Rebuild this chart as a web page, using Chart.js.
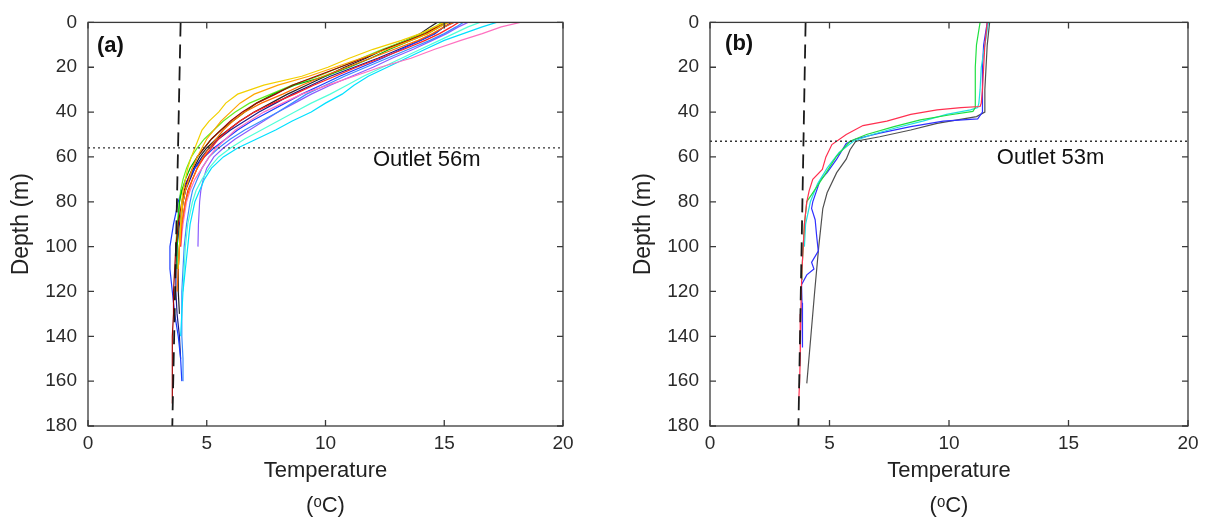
<!DOCTYPE html>
<html>
<head>
<meta charset="utf-8">
<script src="https://cdn.jsdelivr.net/npm/chart.js@4"></script>
<style>
  body { margin: 0; background: #fff; }
  canvas { position: absolute; top: 0; }
</style>
</head>
<body>
<canvas id="chartA" width="600" height="523" style="left:0"></canvas>
<canvas id="chartB" width="606" height="523" style="left:600px"></canvas>
<script>
// ---- data ----
const xTicks = [0, 5, 10, 15, 20];
const yTicks = [0, 20, 40, 60, 80, 100, 120, 140, 160, 180];

// panel (a): depths shared by all profiles, each profile stops where it ends
const depthA = [0, 2, 5, 8, 12, 16, 20, 24, 28, 32, 36, 40, 44, 48, 52, 56, 60, 65, 70, 75, 80, 90, 100, 110, 120, 130, 140, 150, 160, 170];
const yellowA = [15.0, 14.6, 14.0, 13.2, 12.0, 11.0, 10.1, 9.0, 7.4, 6.3, 5.8, 5.5, 5.1, 4.8, 4.65, 4.5, 4.35, 4.2, 4.1, 4.0, 3.95, 3.9, 3.85];
const orangeA = [15.2, 14.8, 14.3, 13.6, 12.6, 11.5, 10.4, 9.3, 8.0, 7.0, 6.4, 6.0, 5.6, 5.3, 5.0, 4.8, 4.6, 4.4, 4.25, 4.1, 4.0, 3.9, 3.85, 3.8];
const orangeRedA = [15.4, 15.0, 14.5, 13.9, 12.9, 11.9, 10.9, 9.9, 9.0, 8.2, 7.3, 6.6, 6.1, 5.7, 5.4, 5.1, 4.85, 4.6, 4.4, 4.25, 4.1, 3.95, 3.85, 3.8, 3.75];
const redA = [15.6, 15.3, 14.8, 14.2, 13.3, 12.3, 11.3, 10.4, 9.5, 8.7, 7.8, 7.0, 6.4, 5.9, 5.5, 5.2, 4.9, 4.6, 4.4, 4.2, 4.1, 3.95, 3.9];
const darkRedA = [15.0, 14.7, 14.2, 13.5, 12.5, 11.6, 10.6, 9.6, 8.6, 7.9, 7.1, 6.5, 6.0, 5.6, 5.2, 4.9, 4.6, 4.4, 4.2, 4.05, 3.95, 3.8, 3.7, 3.65, 3.6, 3.6, 3.55, 3.55, 3.55, 3.55];
const pinkA = [18.2, 17.4, 16.6, 15.7, 14.6, 13.6, 12.3, 11.2, 10.1, 9.0, 8.2, 7.4, 6.8, 6.2, 5.8, 5.4, 5.1, 4.8, 4.5, 4.3, 4.15, 4.0, 3.9];
const greenA = [15.1, 14.8, 14.3, 13.6, 12.7, 11.9, 11.0, 10.0, 8.7, 7.8, 7.1, 6.6, 6.1, 5.6, 5.2, 4.9, 4.6, 4.3, 4.1, 3.95, 3.85, 3.8, 3.75, 3.75];
const limeA = [14.9, 14.6, 14.1, 13.4, 12.4, 11.5, 10.6, 9.7, 8.6, 7.7, 6.8, 6.2, 5.7, 5.3, 4.9, 4.6, 4.35, 4.15, 4.0, 3.9, 3.85, 3.75, 3.7];
const cyanA = [17.2, 16.6, 15.8, 15.0, 14.2, 13.4, 12.6, 11.8, 11.2, 10.7, 10.0, 9.4, 8.6, 7.9, 7.1, 6.3, 5.7, 5.2, 4.9, 4.7, 4.5, 4.3, 4.2, 4.1, 4.0, 3.95, 3.9];
const aquaA = [16.5, 16.0, 15.4, 14.8, 14.0, 13.2, 12.4, 11.6, 10.9, 10.2, 9.4, 8.7, 8.0, 7.3, 6.6, 6.0, 5.5, 5.1, 4.8, 4.55, 4.4, 4.2, 4.1, 4.05, 4.0];
const blueA = [15.4, 15.0, 14.6, 14.0, 13.2, 12.4, 11.5, 10.6, 9.8, 9.0, 8.3, 7.6, 6.9, 6.3, 5.8, 5.3, 4.9, 4.5, 4.2, 3.95, 3.8, 3.6, 3.45, 3.45, 3.55, 3.65, 3.8, 3.9, 3.95];
const skyA = [15.8, 15.5, 15.0, 14.4, 13.5, 12.6, 11.7, 10.8, 10.0, 9.2, 8.6, 8.0, 7.3, 6.6, 6.0, 5.5, 5.1, 4.8, 4.6, 4.4, 4.3, 4.15, 4.05, 4.0, 3.95, 3.95, 3.95, 4.0, 4.0];
const purpleA = [16.0, 15.6, 15.1, 14.5, 13.7, 12.8, 12.0, 11.1, 10.2, 9.4, 8.7, 8.0, 7.4, 6.8, 6.2, 5.7, 5.3, 5.0, 4.85, 4.75, 4.7, 4.65, 4.63];
const navyA = [15.3, 15.0, 14.6, 14.0, 13.1, 12.2, 11.2, 10.2, 9.4, 8.6, 7.9, 7.2, 6.6, 6.0, 5.5, 5.1, 4.8, 4.5, 4.3, 4.1, 4.0, 3.85, 3.75, 3.7, 3.7, 3.75, 3.85, 3.9];
const blackA = [14.7, 14.4, 14.0, 13.4, 12.5, 11.7, 10.8, 10.0, 9.2, 8.4, 7.7, 7.0, 6.4, 5.9, 5.4, 5.0, 4.7, 4.45, 4.25, 4.1, 4.0, 3.9, 3.85, 3.8, 3.8, 3.85];

// panel (b): each profile has its own depths
const redDepthB = [0, 10, 20, 30, 36, 37.5, 38, 39, 41, 44, 46, 50, 54.5, 60, 65.6, 70, 75, 80, 90, 100, 110, 120, 130, 140, 150, 160, 167];
const redTempB = [11.6, 11.5, 11.45, 11.4, 11.35, 11.3, 10.5, 9.5, 8.4, 7.4, 6.4, 5.7, 5.1, 4.85, 4.7, 4.3, 4.15, 4.05, 3.95, 3.9, 3.85, 3.82, 3.8, 3.78, 3.77, 3.75, 3.72];
const greenDepthB = [0, 10, 20, 30, 38, 39.7, 41.3, 43.5, 46.5, 50, 53, 59.6, 68, 76, 80, 90, 100, 110, 115];
const greenTempB = [11.3, 11.15, 11.1, 11.1, 11.1, 11.0, 10.0, 8.8, 7.7, 6.55, 5.86, 5.3, 4.8, 4.3, 4.05, 3.95, 3.9, 3.85, 3.85];
const cyanDepthB = [0, 10, 20, 30, 36, 38, 39, 41, 44, 47, 50, 53, 58, 65, 72, 80, 90, 100];
const cyanTempB = [11.65, 11.5, 11.35, 11.3, 11.25, 11.2, 10.9, 9.9, 8.9, 7.8, 6.8, 6.0, 5.4, 4.9, 4.5, 4.2, 4.0, 3.95];
const blueDepthB = [0, 10, 20, 30, 40, 43, 44, 46.5, 49.4, 52, 54, 61, 67, 70.6, 80, 83, 88, 95, 102, 107, 110, 112.6, 117, 125, 135, 145];
const blueTempB = [11.6, 11.45, 11.4, 11.4, 11.4, 11.2, 9.76, 8.4, 7.1, 6.1, 5.7, 5.3, 4.9, 4.6, 4.3, 4.25, 4.4, 4.46, 4.53, 4.25, 4.35, 4.05, 3.83, 3.85, 3.86, 3.88];
const greyDepthB = [0, 10, 20, 30, 40, 42, 45, 48, 51, 53, 56.8, 61, 67, 76, 83, 100, 120, 140, 161];
const greyTempB = [11.7, 11.6, 11.55, 11.5, 11.5, 11.15, 9.5, 8.4, 7.1, 6.1, 5.86, 5.7, 5.3, 4.9, 4.72, 4.55, 4.38, 4.22, 4.05];

// reference lines: maximum-density line and outlet depth
const densityLineA = [[3.9, 0], [3.55, 180]];
const densityLineB = [[4.0, 0], [3.7, 180]];
const outletA = 56;
const outletB = 53;

// ---- building ----
const FONT = '"Liberation Sans", Arial, sans-serif';

function toPoints(temps, depths) {
  return temps.map((t, i) => ({ x: t, y: depths[i] }));
}

function profile(temps, depths, color) {
  return {
    data: toPoints(temps, depths),
    borderColor: color,
    borderWidth: 1.2,
    pointRadius: 0,
    tension: 0,
    fill: false
  };
}

function refLines(dens, outlet) {
  return [
    {
      data: dens.map(p => ({ x: p[0], y: p[1] })),
      borderColor: '#1a1a1a', borderWidth: 1.8, borderDash: [14, 8],
      pointRadius: 0, fill: false
    },
    {
      data: [{ x: 0, y: outlet }, { x: 20, y: outlet }],
      borderColor: '#333', borderWidth: 1.3, borderDash: [2, 3],
      pointRadius: 0, fill: false
    }
  ];
}

const frame = {
  id: 'frame',
  afterDraw(chart, args, opts) {
    const { ctx, chartArea: a, scales: { x, y } } = chart;
    ctx.save();
    ctx.strokeStyle = '#3a3a3a';
    ctx.lineWidth = 1.3;
    ctx.strokeRect(a.left, a.top, a.right - a.left, a.bottom - a.top);
    ctx.beginPath();
    x.ticks.forEach(t => {
      const px = x.getPixelForValue(t.value);
      ctx.moveTo(px, a.bottom); ctx.lineTo(px, a.bottom - 6);
      ctx.moveTo(px, a.top); ctx.lineTo(px, a.top + 6);
    });
    y.ticks.forEach(t => {
      const py = y.getPixelForValue(t.value);
      ctx.moveTo(a.left, py); ctx.lineTo(a.left + 6, py);
      ctx.moveTo(a.right, py); ctx.lineTo(a.right - 6, py);
    });
    ctx.stroke();
    ctx.fillStyle = '#111';
    ctx.textBaseline = 'middle';
    ctx.font = 'bold 22px ' + FONT;
    ctx.fillText(opts.tag, x.getPixelForValue(opts.tagAt[0]), y.getPixelForValue(opts.tagAt[1]));
    ctx.font = '22px ' + FONT;
    ctx.fillText(opts.note, x.getPixelForValue(opts.noteAt[0]), y.getPixelForValue(opts.noteAt[1]));
    ctx.restore();
  }
};

function makeOptions(pad, tag, tagAt, note, noteAt) {
  return {
    responsive: false,
    animation: false,
    layout: { padding: pad },
    plugins: {
      legend: { display: false },
      tooltip: { enabled: false },
      frame: { tag, tagAt, note, noteAt }
    },
    scales: {
      x: {
        type: 'linear', min: 0, max: 20,
        afterBuildTicks: s => { s.ticks = xTicks.map(v => ({ value: v })); },
        afterFit: s => { s.height = 97; },
        grid: { display: false, drawTicks: false, tickLength: 0 },
        border: { display: false },
        ticks: { color: '#2a2a2a', font: { family: FONT, size: 19 }, padding: 6, maxRotation: 0 },
        title: {
          display: true, text: ['Temperature', '(\u1D52C)'], color: '#222',
          font: { family: FONT, size: 22, lineHeight: '35px' }, padding: { top: 0, bottom: 0 }
        }
      },
      y: {
        type: 'linear', min: 0, max: 180, reverse: true,
        afterBuildTicks: s => { s.ticks = yTicks.map(v => ({ value: v })); },
        afterFit: s => { s.width = 88; },
        grid: { display: false, drawTicks: false, tickLength: 0 },
        border: { display: false },
        ticks: { color: '#2a2a2a', font: { family: FONT, size: 19 }, padding: 11 },
        title: {
          display: true, text: 'Depth (m)', color: '#222',
          font: { family: FONT, size: 23 }, padding: { top: 8, bottom: 0 }
        }
      }
    }
  };
}

const coloursA = ['#f2d000', '#ffa500', '#ff6a00', '#ff2020', '#a00000', '#ff70c0', '#00b800', '#66ee22',
  '#00e0ff', '#50ffd8', '#1a3cff', '#3a8cff', '#8a5cff', '#1a1a8a', '#222222'];
const tempsA = [yellowA, orangeA, orangeRedA, redA, darkRedA, pinkA, greenA, limeA,
  cyanA, aquaA, blueA, skyA, purpleA, navyA, blackA];

new Chart(document.getElementById('chartA'), {
  type: 'line',
  data: {
    datasets: refLines(densityLineA, outletA).concat(
      tempsA.map((t, i) => profile(t, depthA, coloursA[i])))
  },
  options: makeOptions({ left: 0, right: 37, top: 18, bottom: 0 },
    '(a)', [0.38, 10.6], 'Outlet 56m', [12.0, 61.3]),
  plugins: [frame]
});

const coloursB = ['#ff3050', '#20e040', '#20e0e0', '#3030ff', '#505050'];
new Chart(document.getElementById('chartB'), {
  type: 'line',
  data: {
    datasets: refLines(densityLineB, outletB).concat([
      profile(redTempB, redDepthB, coloursB[0]),
      profile(greenTempB, greenDepthB, coloursB[1]),
      profile(cyanTempB, cyanDepthB, coloursB[2]),
      profile(blueTempB, blueDepthB, coloursB[3]),
      profile(greyTempB, greyDepthB, coloursB[4])
    ])
  },
  options: makeOptions({ left: 22, right: 18, top: 18, bottom: 0 },
    '(b)', [0.63, 9.7], 'Outlet 53m', [12.0, 60.4]),
  plugins: [frame]
});
</script>
</body>
</html>
